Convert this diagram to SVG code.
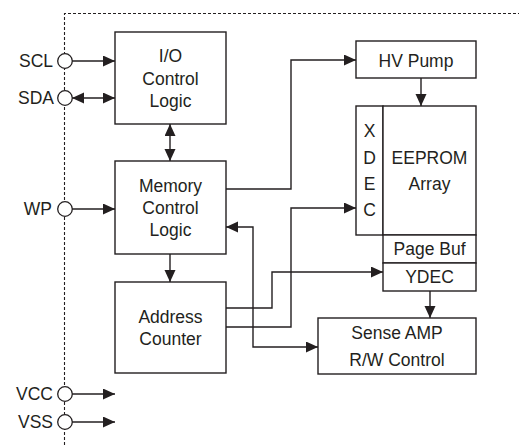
<svg xmlns="http://www.w3.org/2000/svg" width="519" height="445" viewBox="0 0 519 445">
<style>
.box{fill:#fff;stroke:#231f20;stroke-width:1.4}
.pin{fill:#fff;stroke:#231f20;stroke-width:1.3}
.t{font-family:"Liberation Sans",Arial,sans-serif;font-size:17.5px;fill:#231f20;text-anchor:middle}
.lbl{font-family:"Liberation Sans",Arial,sans-serif;font-size:17.5px;fill:#231f20;text-anchor:end}
.w{fill:none;stroke:#231f20;stroke-width:1.4}
.b{fill:none;stroke:#231f20;stroke-width:1.1;stroke-dasharray:3 2}
</style>
<defs>
<marker id="ah" markerUnits="userSpaceOnUse" markerWidth="13" markerHeight="12" refX="12" refY="5.5" orient="auto-start-reverse">
<path d="M0,0 L12,5.5 L0,11 z" fill="#231f20"/>
</marker>
</defs>
<rect width="519" height="445" fill="#fff"/>
<g id="boundary">
<path class="b" d="M64.5,445 V13.5 H519"/>
</g>
<g id="connectors">
<path class="w" d="M72,61 H115" marker-end="url(#ah)"/>
<path class="w" d="M72,98 H115" marker-start="url(#ah)" marker-end="url(#ah)"/>
<path class="w" d="M170,124 V161" marker-start="url(#ah)" marker-end="url(#ah)"/>
<path class="w" d="M72,209 H115" marker-end="url(#ah)"/>
<path class="w" d="M170,254 V282" marker-end="url(#ah)"/>
<path class="w" d="M72,394 H115" marker-end="url(#ah)"/>
<path class="w" d="M72,422 H115" marker-end="url(#ah)"/>
<path class="w" d="M226,189 H291 V60 H356" marker-end="url(#ah)"/>
<path class="w" d="M421,78 V106" marker-end="url(#ah)"/>
<path class="w" d="M226,327 H291 V208 H356" marker-end="url(#ah)"/>
<path class="w" d="M226,308 H272 V272 H383" marker-end="url(#ah)"/>
<path class="w" d="M226,227 H253 V347 H318" marker-start="url(#ah)" marker-end="url(#ah)"/>
<path class="w" d="M430,291 V318" marker-end="url(#ah)"/>
</g>
<g id="pin-scl"><circle class="pin" cx="65" cy="61" r="7.3"/><text class="lbl" x="53" y="67">SCL</text></g>
<g id="pin-sda"><circle class="pin" cx="65" cy="98" r="7.3"/><text class="lbl" x="54" y="104">SDA</text></g>
<g id="pin-wp"><circle class="pin" cx="65" cy="209" r="7.3"/><text class="lbl" x="52" y="215">WP</text></g>
<g id="pin-vcc"><circle class="pin" cx="65" cy="394" r="7.3"/><text class="lbl" x="53" y="400">VCC</text></g>
<g id="pin-vss"><circle class="pin" cx="65" cy="422" r="7.3"/><text class="lbl" x="53" y="428">VSS</text></g>
<g id="io-control">
<rect class="box" x="115" y="32" width="111" height="92"/>
<text class="t" x="170.5" y="61.5">I/O</text>
<text class="t" x="170.5" y="84.5">Control</text>
<text class="t" x="170.5" y="107">Logic</text>
</g>
<g id="memory-control">
<rect class="box" x="115" y="161" width="111" height="93"/>
<text class="t" x="170.5" y="192">Memory</text>
<text class="t" x="170.5" y="214">Control</text>
<text class="t" x="170.5" y="236">Logic</text>
</g>
<g id="address-counter">
<rect class="box" x="115" y="282" width="111" height="91"/>
<text class="t" x="170.5" y="323">Address</text>
<text class="t" x="170.5" y="345">Counter</text>
</g>
<g id="hv-pump">
<rect class="box" x="356" y="41" width="120" height="37"/>
<text class="t" x="416" y="67">HV Pump</text>
</g>
<g id="xdec">
<rect class="box" x="356" y="106" width="27" height="129"/>
<text class="t" x="369.5" y="137">X</text>
<text class="t" x="369.5" y="164">D</text>
<text class="t" x="369.5" y="190">E</text>
<text class="t" x="369.5" y="216">C</text>
</g>
<g id="eeprom-array">
<rect class="box" x="383" y="106" width="93" height="129"/>
<text class="t" x="429.5" y="164">EEPROM</text>
<text class="t" x="429.5" y="190">Array</text>
</g>
<g id="page-buf">
<rect class="box" x="383" y="235" width="93" height="28"/>
<text class="t" x="429.5" y="255">Page Buf</text>
</g>
<g id="ydec">
<rect class="box" x="383" y="263" width="93" height="28"/>
<text class="t" x="429.5" y="283">YDEC</text>
</g>
<g id="sense-amp">
<rect class="box" x="318" y="318" width="158" height="56"/>
<text class="t" x="397" y="339">Sense AMP</text>
<text class="t" x="397" y="366">R/W Control</text>
</g>
</svg>
